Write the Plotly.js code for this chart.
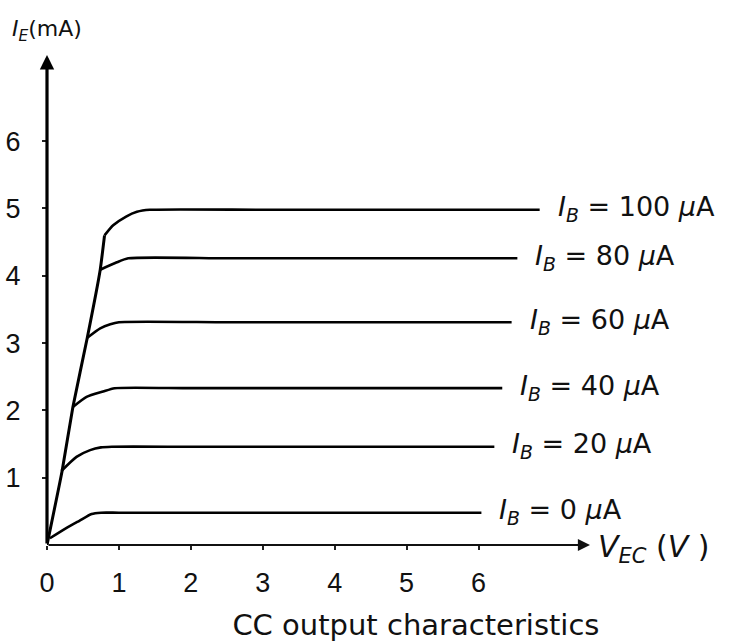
<!DOCTYPE html>
<html>
<head>
<meta charset="utf-8">
<script src="https://cdn.plot.ly/plotly-3.0.1.min.js"></script>
<style>html,body{margin:0;padding:0;background:#fff;}#chart{width:731px;height:643px;}</style>
</head>
<body>
<div id="chart"></div>
<script>
// Base currents (µA) of each output curve
const baseCurrents = [0, 20, 40, 60, 80, 100];
// V_EC (V) and I_E (mA) points of each curve
const vec0   = [0.04, 0.25, 0.45, 0.62, 0.75, 1.0, 3.0, 6.04];
const ie0    = [0.10, 0.24, 0.36, 0.46, 0.48, 0.48, 0.48, 0.48];
const vec20  = [0.20, 0.41, 0.60, 0.75, 0.90, 2.0, 4.0, 6.22];
const ie20   = [1.10, 1.31, 1.41, 1.45, 1.46, 1.46, 1.46, 1.46];
const vec40  = [0.36, 0.55, 0.78, 0.94, 2.0, 4.0, 6.33];
const ie40   = [2.05, 2.20, 2.28, 2.33, 2.33, 2.33, 2.33];
const vec60  = [0.56, 0.74, 0.88, 1.00, 2.5, 4.5, 6.46];
const ie60   = [3.08, 3.22, 3.28, 3.31, 3.31, 3.31, 3.31];
const vec80  = [0.74, 0.97, 1.13, 2.5, 4.5, 6.54];
const ie80   = [4.09, 4.20, 4.26, 4.26, 4.26, 4.26];
const vec100 = [0.80, 0.92, 1.10, 1.25, 1.43, 3.0, 5.0, 6.85];
const ie100  = [4.60, 4.75, 4.88, 4.95, 4.98, 4.98, 4.98, 4.98];
// Saturation boundary line
const vecSat = [0.0, 0.21, 0.36, 0.56, 0.74, 0.80];
const ieSat  = [0.0, 1.10, 2.05, 3.08, 4.09, 4.60];
// Axis ticks
const xTicks = [0, 1, 2, 3, 4, 5, 6];
const yTicks = [1, 2, 3, 4, 5, 6];

const curvesX = [vec0, vec20, vec40, vec60, vec80, vec100];
const curvesY = [ie0, ie20, ie40, ie60, ie80, ie100];

const lineStyle = {color: '#000', width: 2.6, shape: 'spline', smoothing: 0.6};
const traces = curvesX.map((xs, i) => ({
  x: xs, y: curvesY[i], mode: 'lines', line: lineStyle, hoverinfo: 'skip'
}));
traces.push({x: vecSat, y: ieSat, mode: 'lines', line: {color: '#000', width: 3, shape: 'spline', smoothing: 0.4}, hoverinfo: 'skip'});

const labelFont = {family: 'DejaVu Sans, sans-serif', size: 27, color: '#111'};
const annotations = curvesX.map((xs, i) => ({
  x: xs[xs.length - 1], y: curvesY[i][curvesY[i].length - 1],
  xref: 'x', yref: 'y', xanchor: 'left', yanchor: 'middle', xshift: 16, yshift: 1,
  text: '<i>I</i><sub><i>B</i></sub> = ' + baseCurrents[i] + ' <i>μ</i>A',
  showarrow: false, font: labelFont
}));
// axis arrows
annotations.push({x: 0, y: 7.28, ax: 0, ay: 0, xref: 'x', yref: 'y', axref: 'x', ayref: 'y',
  showarrow: true, arrowhead: 2, arrowsize: 0.9, arrowwidth: 3.2, arrowcolor: '#000', text: ''});
annotations.push({x: 7.55, y: 0, ax: 0, ay: 0, xref: 'x', yref: 'y', axref: 'x', ayref: 'y',
  showarrow: true, arrowhead: 2, arrowsize: 1.1, arrowwidth: 2.2, arrowcolor: '#111', text: ''});
// axis titles
annotations.push({xref: 'paper', yref: 'paper', x: 1, y: 0, xshift: 6, yshift: -3, xanchor: 'left', yanchor: 'middle',
  showarrow: false, text: '<i>V</i><sub><i>EC</i></sub> (<i>V</i> )', font: {family: 'DejaVu Sans, sans-serif', size: 30, color: '#111'}});
annotations.push({xref: 'paper', yref: 'paper', x: 0, y: 1, xanchor: 'left', yanchor: 'bottom',
  xshift: -37, yshift: 8, showarrow: false,
  text: '<i>I</i><sub><i>E</i></sub>(mA)', font: {family: 'DejaVu Sans, sans-serif', size: 22, color: '#111'}});

const tickFont = {family: 'Liberation Sans, Arial, sans-serif', size: 27, color: '#111'};
const layout = {
  width: 731, height: 643,
  margin: {l: 47, r: 141, t: 55, b: 98, pad: 0},
  paper_bgcolor: '#fff', plot_bgcolor: '#fff',
  showlegend: false,
  title: {text: 'CC output characteristics', font: {family: 'DejaVu Sans, sans-serif', size: 29, color: '#111'},
    x: 0.569, xanchor: 'center', y: 0.028, yanchor: 'middle'},
  xaxis: {range: [0, 7.55], showgrid: false, zeroline: false, showline: false,
    tickvals: xTicks, ticktext: xTicks.map(String), ticks: 'outside', ticklen: 4, tickwidth: 2, tickcolor: '#222',
    tickfont: tickFont, ticklabelstandoff: 10},
  yaxis: {range: [0, 7.28], showgrid: false, zeroline: false, showline: false,
    tickvals: yTicks, ticktext: yTicks.map(String), ticks: 'outside', ticklen: 4, tickwidth: 2, tickcolor: '#222',
    tickfont: tickFont, ticklabelstandoff: 16},
  annotations: annotations
};
Plotly.newPlot('chart', traces, layout, {staticPlot: true, displayModeBar: false});
</script>
</body>
</html>
